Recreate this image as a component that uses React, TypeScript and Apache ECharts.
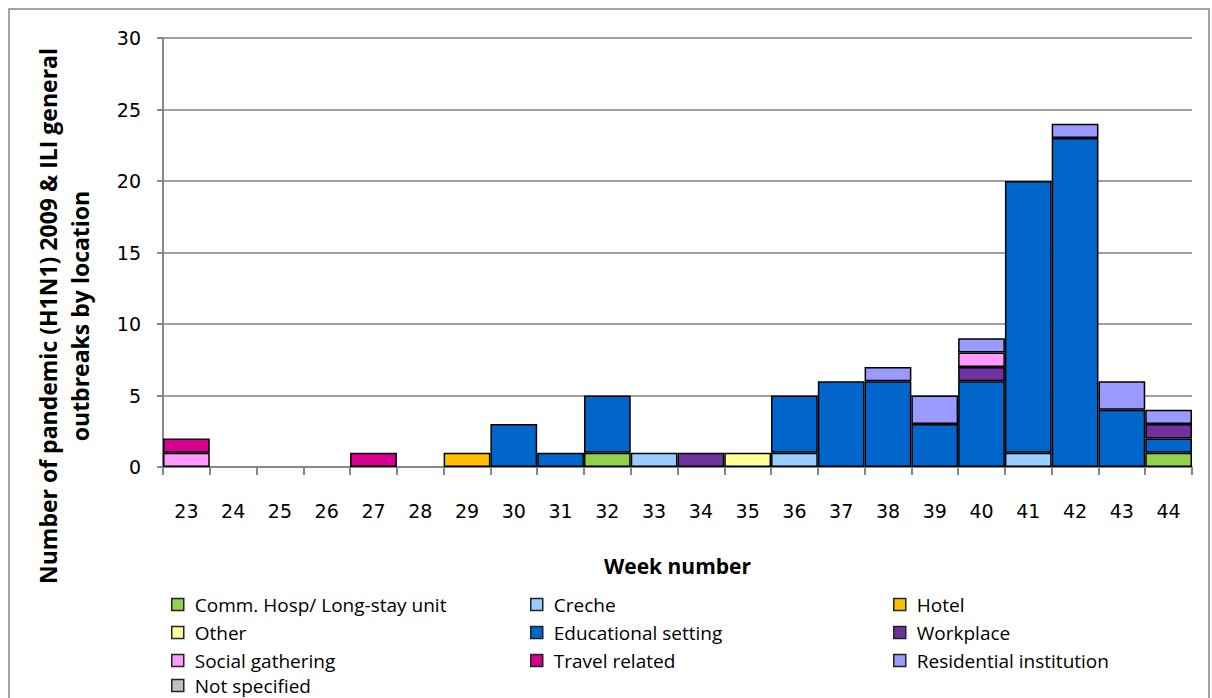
import React, { useEffect, useRef } from "react";
import * as echarts from "echarts";

const weeks = ["23","24","25","26","27","28","29","30","31","32","33","34","35","36","37","38","39","40","41","42","43","44"];
const commHosp     = [0,0,0,0,0,0,0,0,0,1,0,0,0,0,0,0,0,0,0,0,0,1];
const creche       = [0,0,0,0,0,0,0,0,0,0,1,0,0,1,0,0,0,0,1,0,0,0];
const hotel        = [0,0,0,0,0,0,1,0,0,0,0,0,0,0,0,0,0,0,0,0,0,0];
const other        = [0,0,0,0,0,0,0,0,0,0,0,0,1,0,0,0,0,0,0,0,0,0];
const educational  = [0,0,0,0,0,0,0,3,1,4,0,0,0,4,6,6,3,6,19,23,4,1];
const workplace    = [0,0,0,0,0,0,0,0,0,0,0,1,0,0,0,0,0,1,0,0,0,1];
const social       = [1,0,0,0,0,0,0,0,0,0,0,0,0,0,0,0,0,1,0,0,0,0];
const travel       = [1,0,0,0,1,0,0,0,0,0,0,0,0,0,0,0,0,0,0,0,0,0];
const residential  = [0,0,0,0,0,0,0,0,0,0,0,0,0,0,0,1,2,1,0,1,2,1];
const notSpecified = [0,0,0,0,0,0,0,0,0,0,0,0,0,0,0,0,0,0,0,0,0,0];

const seriesDefs = [
  { name: "Comm. Hosp/ Long-stay unit", data: commHosp, color: "#92D050" },
  { name: "Creche", data: creche, color: "#99CCFF" },
  { name: "Hotel", data: hotel, color: "#FFC000" },
  { name: "Other", data: other, color: "#FFFF99" },
  { name: "Educational setting", data: educational, color: "#0066CC" },
  { name: "Workplace", data: workplace, color: "#7030A0" },
  { name: "Social gathering", data: social, color: "#FF99FF" },
  { name: "Travel related", data: travel, color: "#D6008F" },
  { name: "Residential institution", data: residential, color: "#9999FF" },
  { name: "Not specified", data: notSpecified, color: "#C0C0C0" },
];

const legendBlocks = [
  { items: ["Comm. Hosp/ Long-stay unit", "Other", "Social gathering"], col: 0, row: 0 },
  { items: ["Not specified"], col: 0, row: 3 },
  { items: ["Creche", "Educational setting", "Travel related"], col: 1, row: 0 },
  { items: ["Hotel", "Workplace", "Residential institution"], col: 2, row: 0 },
];
const legendX = [166, 525, 888];

export default function App() {
  const ref = useRef<HTMLDivElement>(null);
  useEffect(() => {
    const chart = echarts.init(ref.current!, null, { renderer: "svg" });
    const font = "'Open Sans', Lato, sans-serif";
    const tickFont = "'DejaVu Sans', Verdana, sans-serif";
    chart.setOption({
      animation: false,
      backgroundColor: "#fff",
      textStyle: { fontFamily: font },
      grid: { left: 163, right: 20, top: 38, bottom: 231, containLabel: false },
      xAxis: {
        type: "category",
        data: weeks,
        axisLine: { lineStyle: { color: "#868686", width: 2 } },
        axisTick: { show: true, length: 8, alignWithLabel: false, lineStyle: { color: "#868686", width: 2 } },
        axisLabel: { color: "#000", fontSize: 19, margin: 34, fontFamily: tickFont },
        name: "Week number",
        nameLocation: "middle",
        nameGap: 88,
        nameTextStyle: { color: "#000", fontSize: 21, fontWeight: "bold", fontFamily: font },
      },
      yAxis: {
        type: "value",
        min: 0,
        max: 30,
        interval: 5,
        axisLine: { show: true, lineStyle: { color: "#868686", width: 2 } },
        axisTick: { show: true, length: 6, lineStyle: { color: "#868686", width: 2 } },
        axisLabel: { color: "#000", fontSize: 19, margin: 22, fontFamily: tickFont },
        splitLine: { lineStyle: { color: "#A0A0A0", width: 2 } },
      },
      legend: legendBlocks.map((b) => ({
        data: b.items,
        orient: "vertical",
        left: legendX[b.col],
        top: 590 + b.row * 27,
        itemWidth: 12,
        itemHeight: 12,
        itemGap: 9,
        icon: "rect",
        selectedMode: false,
        itemStyle: { borderColor: "#222", borderWidth: 1.5 },
        textStyle: { color: "#000", fontSize: 19, lineHeight: 18, fontFamily: font, padding: [0, 0, 0, 6] },
      })),
      graphic: [
        {
          type: "rect",
          shape: { x: 9, y: 9, width: 1200, height: 700 },
          style: { fill: "none", stroke: "#868686", lineWidth: 1.5 },
          silent: true,
        },
        {
          type: "text",
          x: 64,
          y: 316,
          rotation: Math.PI / 2,
          style: {
            text: "Number of pandemic (H1N1) 2009 & ILI general\noutbreaks by location",
            fontSize: 23,
            fontWeight: "bold",
            fontFamily: font,
            fill: "#000",
            textAlign: "center",
            textVerticalAlign: "middle",
            lineHeight: 32,
          },
        },
      ],
      series: seriesDefs.map((s) => ({
        name: s.name,
        type: "bar",
        stack: "total",
        barCategoryGap: "0%",
        data: s.data.map((v) => (v === 0 ? null : v)),
        itemStyle: { color: s.color, borderColor: "#000", borderWidth: 1.5 },
      })),
    });
    return () => chart.dispose();
  }, []);
  return (
    <div
      ref={ref}
      style={{ position: "absolute", left: 0, top: 0, width: 1212, height: 698 }}
    />
  );
}
